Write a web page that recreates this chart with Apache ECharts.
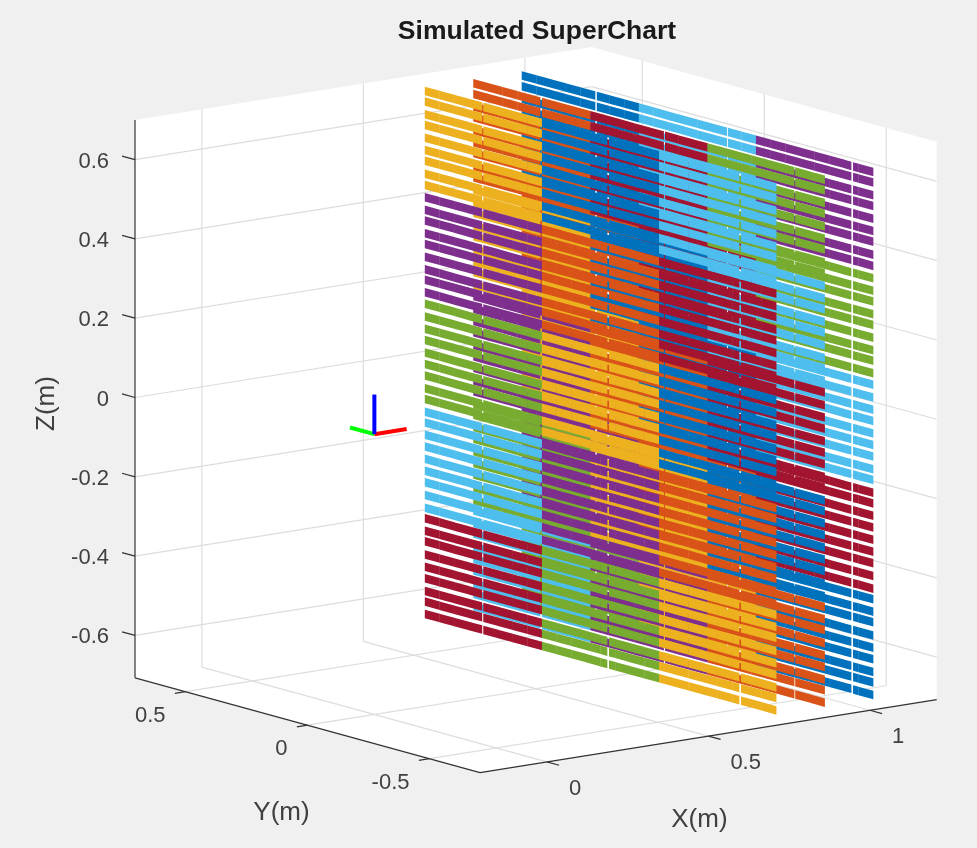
<!DOCTYPE html>
<html>
<head>
<meta charset="utf-8">
<title>Simulated SuperChart</title>
<script src="https://cdn.jsdelivr.net/npm/echarts@6/dist/echarts.min.js"></script>
<style>
  html, body { margin: 0; padding: 0; background: #f0f0f0; }
  #chart { width: 977px; height: 848px; filter: blur(0.45px); }
</style>
</head>
<body>
<div id="chart"></div>
<script>
// values (metres)
const xLim = [-0.207, 1.207];
const yLim = [-0.707, 0.707];
const zLim = [-0.707, 0.7];
const xTicks = [0, 0.5, 1];
const yTicks = [-0.5, 0, 0.5];
const zTicks = [-0.6, -0.4, -0.2, 0, 0.2, 0.4, 0.6];
const xTickLabels = ['0', '0.5', '1'];
const yTickLabels = ['-0.5', '0', '0.5'];
const zTickLabels = ['-0.6', '-0.4', '-0.2', '0', '0.2', '0.4', '0.6'];

// sensor grid: one plane per x, 24 stations across, 45 rows down
const planeX = [1.0, 0.85, 0.7];
const stationY = [0.69, 0.63, 0.57, 0.51, 0.45, 0.39, 0.33, 0.27, 0.21, 0.15, 0.09, 0.03,
  -0.03, -0.09, -0.15, -0.21, -0.27, -0.33, -0.39, -0.45, -0.51, -0.57, -0.63, -0.69];
const rowZ = [0.653, 0.626, 0.594, 0.567, 0.535, 0.504, 0.477, 0.444, 0.416,
  0.385, 0.353, 0.326, 0.294, 0.267, 0.235, 0.203, 0.177, 0.145,
  0.116, 0.084, 0.053, 0.025, -0.007, -0.036, -0.065, -0.097, -0.124,
  -0.156, -0.183, -0.214, -0.244, -0.275, -0.305, -0.334, -0.366, -0.398,
  -0.425, -0.456, -0.483, -0.516, -0.547, -0.576, -0.608, -0.635, -0.666];
const lineColors = ['#0072BD', '#D95319', '#EDB120', '#7E2F8E', '#77AC30', '#4DBEEE', '#A2142F'];
// colour of each 8 x 9 block, column by column, top to bottom
const planeBlocks = [
  [0, 1, 2, 3, 4, 5, 6, 0, 1, 2, 3, 4, 5, 6, 0],
  [1, 2, 3, 4, 5, 6, 0, 1, 2, 3, 4, 5, 6, 0, 1],
  [2, 3, 4, 5, 6, 0, 1, 2, 3, 4, 5, 6, 0, 1, 2]
];
// thin seams in each plane, one per column
const planeSeams = [
  [0.416, -0.121, -0.634],
  [0.442, -0.062, -0.599],
  [0.482, -0.031, -0.572]
];
const planeNames = ['back plane', 'middle plane', 'front plane'];

const triadOrigin = [0, 0, 0];
const triadTips = [[0, 0.1, 0], [0.1, 0, 0], [0, 0, 0.1]];
const triadColors = ['#00ff00', '#ff0000', '#0000ff'];

// fixed camera of the original view
function project(x, y, z) {
  const a = x - xLim[0];
  const b = yLim[1] - y;
  return [135 + 323 * a + 244 * b, 397.5 - 51.6 * a + 67 * b - 396.5 * z];
}

function seg(p, q) {
  return [p[0], p[1], p[2], q[0], q[1], q[2]];
}

// grid lines on the two back walls and the floor
const gridSegs = [];
xTicks.forEach(x => {
  gridSegs.push(seg([x, yLim[1], zLim[0]], [x, yLim[1], zLim[1]]));
  gridSegs.push(seg([x, yLim[1], zLim[0]], [x, yLim[0], zLim[0]]));
});
yTicks.forEach(y => {
  gridSegs.push(seg([xLim[1], y, zLim[0]], [xLim[1], y, zLim[1]]));
  gridSegs.push(seg([xLim[1], y, zLim[0]], [xLim[0], y, zLim[0]]));
});
zTicks.forEach(z => {
  gridSegs.push(seg([xLim[0], yLim[1], z], [xLim[1], yLim[1], z]));
  gridSegs.push(seg([xLim[1], yLim[1], z], [xLim[1], yLim[0], z]));
});

// axis rulers and tick marks
const axisSegs = [
  seg([xLim[0], yLim[1], zLim[0]], [xLim[0], yLim[1], zLim[1]]),
  seg([xLim[0], yLim[1], zLim[0]], [xLim[0], yLim[0], zLim[0]]),
  seg([xLim[0], yLim[0], zLim[0]], [xLim[1], yLim[0], zLim[0]])
];
zTicks.forEach(z => axisSegs.push(seg([xLim[0], yLim[1], z], [xLim[0], yLim[1] + 0.053, z])));
yTicks.forEach(y => axisSegs.push(seg([xLim[0], y, zLim[0]], [xLim[0] - 0.033, y, zLim[0]])));
xTicks.forEach(x => axisSegs.push(seg([x, yLim[0], zLim[0]], [x, yLim[0] - 0.05, zLim[0]])));

const boxOutline = [
  [xLim[0], yLim[1], zLim[1]], [xLim[1], yLim[1], zLim[1]], [xLim[1], yLim[0], zLim[1]],
  [xLim[1], yLim[0], zLim[0]], [xLim[0], yLim[0], zLim[0]], [xLim[0], yLim[1], zLim[0]]
];

const textColor = '#404040';
const tickFont = '22px "Liberation Sans", Arial, sans-serif';
const titleFont = '26px "Liberation Sans", Arial, sans-serif';

// [x, y, z, text, dx, dy, align, rotated, font]
const labels = [];
zTicks.forEach((z, i) => labels.push([xLim[0], yLim[1], z, zTickLabels[i], -26, 2, 'right', 0, tickFont]));
yTicks.forEach((y, i) => labels.push([xLim[0], y, zLim[0], yTickLabels[i], -20, 24, 'right', 0, tickFont]));
xTicks.forEach((x, i) => labels.push([x, yLim[0], zLim[0], xTickLabels[i], 22, 27, 'left', 0, tickFont]));
labels.push([xLim[0], yLim[1], 0, 'Z(m)', -88, 6, 'center', 1, titleFont]);
labels.push([xLim[0], 0, zLim[0], 'Y(m)', -26, 88, 'center', 0, titleFont]);
labels.push([0.5, yLim[0], zLim[0], 'X(m)', -9, 84, 'center', 0, titleFont]);

function toPixel(api, p) {
  return api.coord(project(p[0], p[1], p[2]));
}

function segmentItem(stroke, width) {
  return function (params, api) {
    const p = toPixel(api, [api.value(0), api.value(1), api.value(2)]);
    const q = toPixel(api, [api.value(3), api.value(4), api.value(5)]);
    return {
      type: 'line',
      shape: { x1: p[0], y1: p[1], x2: q[0], y2: q[1] },
      style: { stroke: stroke, lineWidth: width, fill: null }
    };
  };
}

const rowHeight = 8.5;
const stationHalf = 0.03;
const seamHalf = 0.004;

function planeSeries(planeIdx) {
  const x = planeX[planeIdx];
  const blocks = planeBlocks[planeIdx];
  const seams = planeSeams[planeIdx];
  const data = [];
  rowZ.forEach((z, r) => {
    stationY.forEach((y, s) => {
      const block = Math.floor(s / 8) * 5 + Math.floor(r / 9);
      data.push([x, y, z, blocks[block]]);
    });
  });
  return {
    type: 'custom',
    name: planeNames[planeIdx],
    coordinateSystem: 'cartesian2d',
    silent: true,
    clip: false,
    z: 3 + planeIdx,
    data: data,
    renderItem: function (params, api) {
      const px = api.value(0);
      const py = api.value(1);
      const pz = api.value(2);
      const fill = lineColors[api.value(3)];
      // a slanted slab between two y values of the station
      const slab = (y0, y1) => {
        const p = toPixel(api, [px, y0, pz]);
        const q = toPixel(api, [px, y1, pz]);
        return {
          type: 'polygon',
          shape: {
            points: [
              [p[0], p[1] - rowHeight / 2], [q[0] + 0.3, q[1] - rowHeight / 2],
              [q[0] + 0.3, q[1] + rowHeight / 2], [p[0], p[1] + rowHeight / 2]
            ]
          },
          style: { fill: fill }
        };
      };
      const y0 = py + stationHalf;
      const y1 = py - stationHalf;
      const seam = seams.find(g => g <= y0 && g > y1);
      if (seam === undefined) {
        return slab(y0, y1);
      }
      return { type: 'group', children: [slab(y0, seam + seamHalf), slab(seam - seamHalf, y1)] };
    }
  };
}

const series = [
  {
    type: 'custom',
    name: 'axes box',
    coordinateSystem: 'cartesian2d',
    silent: true,
    clip: false,
    z: 1,
    data: [[0, 0]],
    renderItem: function (params, api) {
      return {
        type: 'polygon',
        shape: { points: boxOutline.map(p => toPixel(api, p)) },
        style: { fill: '#ffffff' }
      };
    }
  },
  {
    type: 'custom',
    name: 'grid',
    coordinateSystem: 'cartesian2d',
    silent: true,
    clip: false,
    z: 2,
    data: gridSegs,
    renderItem: segmentItem('#dddddd', 1.2)
  },
  planeSeries(0),
  planeSeries(1),
  planeSeries(2)
];

triadTips.forEach((tip, i) => {
  series.push({
    type: 'custom',
    name: 'triad ' + i,
    coordinateSystem: 'cartesian2d',
    silent: true,
    clip: false,
    z: 7,
    data: [seg(triadOrigin, tip)],
    renderItem: segmentItem(triadColors[i], 4)
  });
});

series.push({
  type: 'custom',
  name: 'axes',
  coordinateSystem: 'cartesian2d',
  silent: true,
  clip: false,
  z: 8,
  data: axisSegs,
  renderItem: segmentItem('#333333', 1.2)
});

series.push({
  type: 'custom',
  name: 'labels',
  coordinateSystem: 'cartesian2d',
  silent: true,
  clip: false,
  z: 9,
  data: labels.map((l, i) => [l[0], l[1], l[2], i]),
  renderItem: function (params, api) {
    const l = labels[params.dataIndex];
    const p = toPixel(api, l);
    return {
      type: 'text',
      x: p[0] + l[4],
      y: p[1] + l[5],
      rotation: l[7] ? Math.PI / 2 : 0,
      style: {
        text: l[3],
        fill: textColor,
        font: l[8],
        align: l[6],
        verticalAlign: 'middle',
        textAlign: l[6],
        textVerticalAlign: 'middle'
      }
    };
  }
});

const myChart = echarts.init(document.getElementById('chart'), null, { renderer: 'canvas' });
myChart.setOption({
  backgroundColor: '#f0f0f0',
  animation: false,
  title: {
    text: 'Simulated SuperChart',
    left: 532,
    top: 13,
    textAlign: 'center',
    textStyle: { color: '#1a1a1a', fontSize: 26.5, fontWeight: 'bold', fontFamily: '"Liberation Sans", Arial, sans-serif' }
  },
  grid: { left: 0, right: 0, top: 0, bottom: 0 },
  xAxis: { type: 'value', min: 0, max: 977, show: false },
  yAxis: { type: 'value', min: 0, max: 848, inverse: true, show: false },
  series: series
});
</script>
</body>
</html>
